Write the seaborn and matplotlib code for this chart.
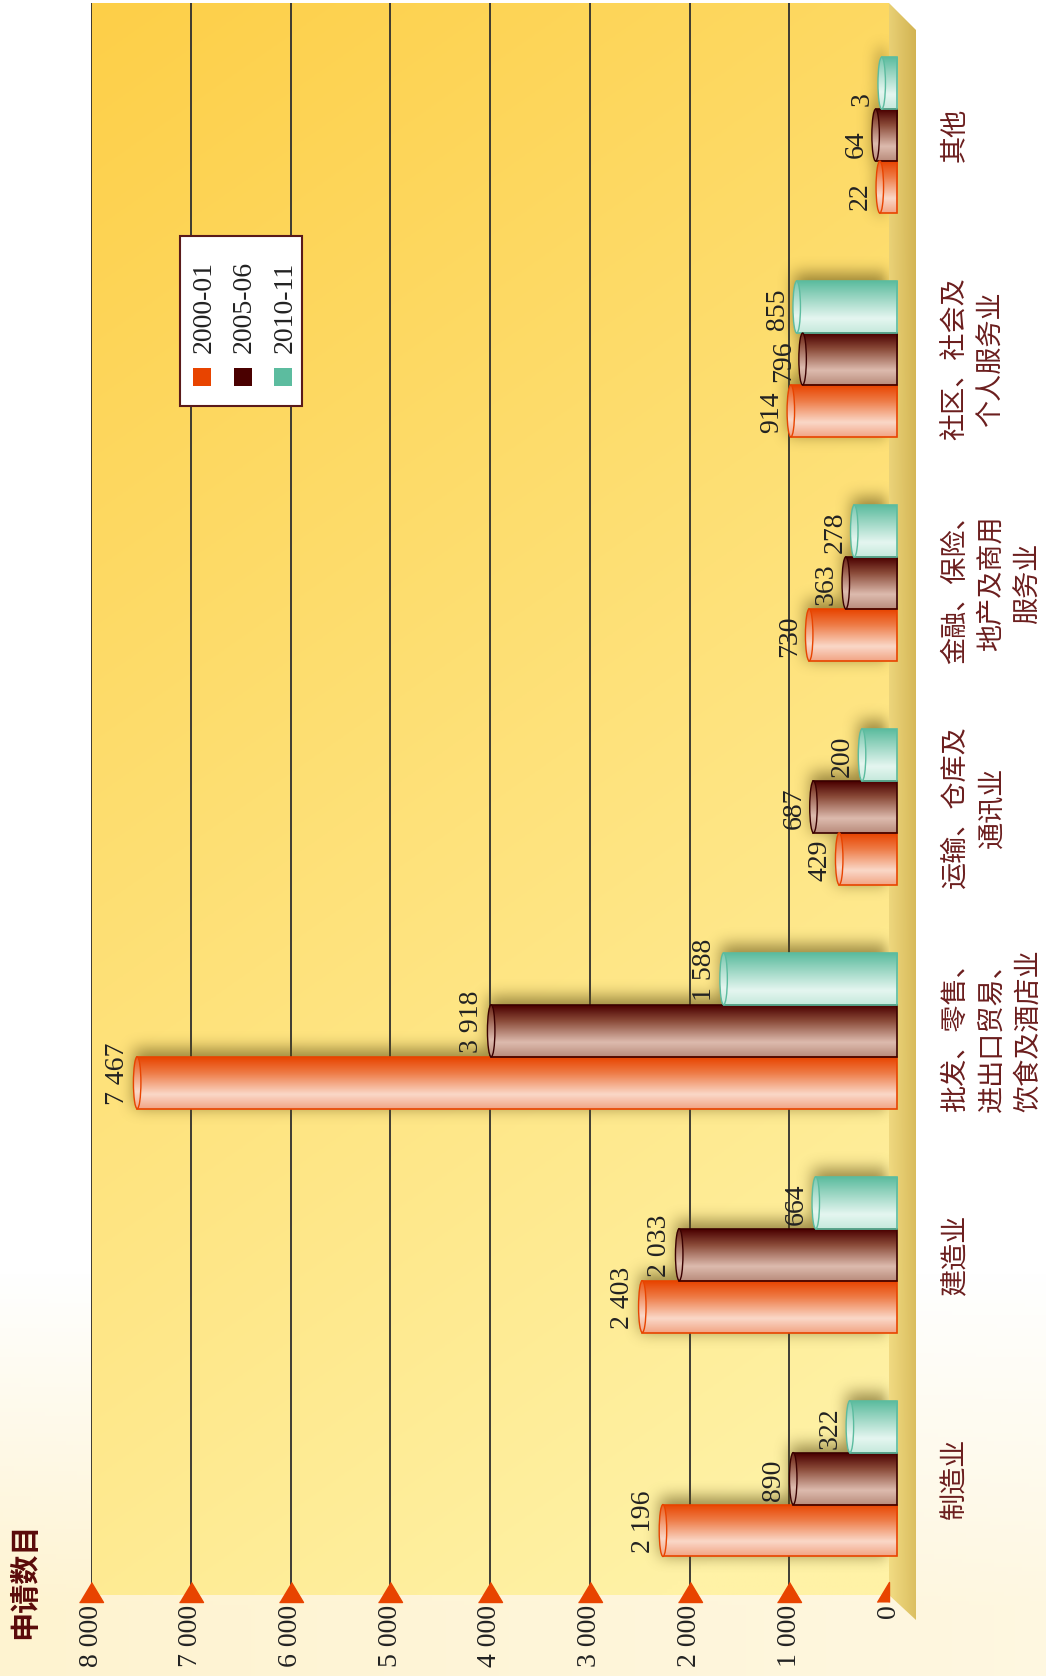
import numpy as np
import pandas as pd
import matplotlib
matplotlib.use("Agg")
import matplotlib.pyplot as plt
import matplotlib.transforms as mtransforms
from matplotlib.patches import Rectangle, Ellipse, Polygon
from matplotlib.colors import LinearSegmentedColormap, to_rgb
import seaborn as sns

# ---------------- data ----------------
categories = ["制造业", "建造业", "批发、零售、进出口贸易、饮食及酒店业", "运输、仓库及通讯业",
              "金融、保险、地产及商用服务业", "社区、社会及个人服务业", "其他"]
category_labels = ["制造业", "建造业", "批发、零售、\n进出口贸易、\n饮食及酒店业", "运输、仓库及\n通讯业",
                   "金融、保险、\n地产及商用\n服务业", "社区、社会及\n个人服务业", "其他"]
periods = ["2000-01", "2005-06", "2010-11"]
values_2000_01 = [2196, 2403, 7467, 429, 730, 914, 22]
values_2005_06 = [890, 2033, 3918, 687, 363, 796, 64]
values_2010_11 = [322, 664, 1588, 200, 278, 855, 3]
tick_values = [0, 1000, 2000, 3000, 4000, 5000, 6000, 7000, 8000]
tick_labels = ["0", "1 000", "2 000", "3 000", "4 000", "5 000", "6 000", "7 000", "8 000"]
axis_title = "申请数目"

series = {"2000-01": values_2000_01, "2005-06": values_2005_06, "2010-11": values_2010_11}
df = pd.DataFrame([(c, p, v) for p in periods for c, v in zip(categories, series[p])],
                  columns=["category", "period", "value"])

# ---------------- style ----------------
sns.set_theme(style="white")
plt.rcParams["font.family"] = ["Liberation Serif", "Noto Sans CJK SC", "DejaVu Sans"]

base_colors = {"2000-01": "#E84400", "2005-06": "#4A0000", "2010-11": "#5CBC9F"}
edge_colors = {"2000-01": "#E84400", "2005-06": "#3A0000", "2010-11": "#5CBC9F"}
grad_stops = {
    "2000-01": [(0, "#E84400"), (0.3, "#EE7A45"), (0.72, "#FAD8C8"), (1.0, "#F2A585")],
    "2005-06": [(0, "#4A0000"), (0.3, "#8A4A38"), (0.72, "#DDBBAE"), (1.0, "#B98C7C")],
    "2010-11": [(0, "#5CBC9F"), (0.3, "#96D4C0"), (0.72, "#E5F6F0"), (1.0, "#C5E9DC")],
}
cmaps = {k: LinearSegmentedColormap.from_list(k, v) for k, v in grad_stops.items()}
label_red = "#6B1E1E"
txt_dark = "#222222"

W, H = 1046, 1676
fig = plt.figure(figsize=(W / 100, H / 100), dpi=100)


def fx(x):
    return x / W


def fy(y):
    return 1 - y / H


# background gradient (figure coords)
bg = fig.add_axes([0, 0, 1, 1], zorder=-10)
bg.set_axis_off()
gy, gx = np.mgrid[0:1:400j, 0:1:300j]
t = np.clip((gy - 0.76) / 0.2, 0, 1) * (0.65 + 0.35 * (1 - gx))
t = t[..., None]
c0 = np.array(to_rgb("#FFFFFF"))
c1 = np.array(to_rgb("#FEF3D0"))
bg.imshow(c0 * (1 - t) + c1 * t, extent=[0, 1, 0, 1], aspect="auto", origin="upper")

# 3D side wall
wall_pts = [(fx(889), fy(3)), (fx(916), fy(30)), (fx(916), fy(1620)), (fx(889), fy(1595))]
wall = Polygon(wall_pts, closed=True, facecolor="none", edgecolor="none")
bg.add_patch(wall)
wy, wx = np.mgrid[0:1:200j, 0:1:60j]
wt = (0.7 * wx + 0.3 * (1 - wy))[..., None]
wc0 = np.array(to_rgb("#F2DC84"))
wc1 = np.array(to_rgb("#D2B352"))
wim = bg.imshow(wc0 * (1 - wt) + wc1 * wt, extent=[fx(889), fx(916), fy(1620), fy(3)],
                aspect="auto", origin="upper")
wim.set_clip_path(wall)
bg.set_xlim(0, 1)
bg.set_ylim(0, 1)

# ---------------- main axes ----------------
ax = fig.add_axes([fx(91), fy(1595), fx(889) - fx(91), fy(3) - fy(1595)])
py, px = np.mgrid[0:1:400j, 0:1:300j]
pt = np.clip(0.8 * py + 0.28 * px, 0, 1)[..., None]
pc0 = np.array(to_rgb("#FDCF48"))
pc1 = np.array(to_rgb("#FFF2A6"))
ax.imshow(pc0 * (1 - pt) + pc1 * pt, extent=[0, 1, 0, 1], transform=ax.transAxes,
          aspect="auto", origin="upper", zorder=0)

sns.barplot(data=df, x="value", y="category", hue="period", order=categories,
            hue_order=periods, palette=base_colors, orient="h", width=0.696, gap=0,
            saturation=1, errorbar=None, legend=False, ax=ax, zorder=3)
bars = [p for p in ax.patches]

ax.set_xlim(8000, 0)
ax.set_ylim(-0.52, 6.59)
ax.set_xlabel("")
ax.set_ylabel("")
for s in ax.spines.values():
    s.set_visible(False)

# gridlines
ax.vlines(tick_values[1:], 0, 1, transform=mtransforms.blended_transform_factory(ax.transData, ax.transAxes),
          colors="#2E2E2E", lw=1.3, zorder=1)

# bars: 3D depth offset, gradients, caps
off = mtransforms.ScaledTranslation(-0.07, 0, fig.dpi_scale_trans)
tr = ax.transData + off
cap_w = 75
depth_ext = 150  # cylinder base extends into the side wall


def period_of(patch):
    fc = np.array(patch.get_facecolor()[:3])
    return min(periods, key=lambda k: np.sum((np.array(to_rgb(base_colors[k])) - fc) ** 2))


bar_info = []
for p in bars:
    per = period_of(p)
    x0, y0, w, h = p.get_x(), p.get_y(), p.get_width(), p.get_height()
    value = x0 + w
    bar_info.append((per, value, y0, h))
    grad = cmaps[per](np.linspace(0, 1, 120))[:, None, :3]
    p.set_x(x0 - depth_ext)
    p.set_width(w + depth_ext)
    p.set_transform(tr)
    p.set_clip_on(False)
    p.set_facecolor("none")
    p.set_edgecolor(edge_colors[per])
    p.set_linewidth(1.2)
    p.set_zorder(3.2)
    im = ax.imshow(grad, extent=[-depth_ext, value, y0, y0 + h], aspect="auto", origin="upper",
                   zorder=3.1, transform=tr, interpolation="bilinear")
    im.set_clip_path(p)
    el = Ellipse((value, y0 + h / 2), width=cap_w, height=h, transform=tr,
                 facecolor="none", edgecolor=edge_colors[per], lw=1.0, zorder=3.4, clip_on=False)
    ax.add_patch(el)
    cgrad = cmaps[per](np.linspace(0.15, 1, 120))[:, None, :3]
    cim = ax.imshow(cgrad, extent=[value - cap_w / 2, value + cap_w / 2, y0, y0 + h], aspect="auto",
                    origin="upper", zorder=3.3, transform=tr, interpolation="bilinear")
    cim.set_clip_path(el)

ax.set_xlim(8000, 0)
ax.set_ylim(-0.52, 6.59)

# soft shadows under bars
bb = ax.bbox
nx, ny = int(round(bb.width)), int(round(bb.height))
mask = np.zeros((ny, nx))
for per, value, y0, h in bar_info:
    pts = tr.transform([[-depth_ext, y0], [value - cap_w / 2, y0 + h]])
    xa, xb = sorted(pts[:, 0] - bb.x0)
    ya, yb = sorted(bb.y1 - pts[:, 1])
    xa -= 6
    ya -= 7
    r0, r1 = int(max(ya, 0)), int(min(yb, ny))
    c0_, c1_ = int(max(xa, 0)), int(min(xb, nx))
    if r1 > r0 and c1_ > c0_:
        mask[r0:r1, c0_:c1_] = 1.0


def box_blur(a, r, axis):
    a = np.moveaxis(a, axis, 0)
    pad = np.pad(a, ((r + 1, r),) + ((0, 0),) * (a.ndim - 1), mode="constant")
    c = np.cumsum(pad, axis=0)
    out = (c[2 * r + 1:] - c[:-2 * r - 1]) / (2 * r + 1)
    return np.moveaxis(out, 0, axis)


sh = mask
for _ in range(3):
    sh = box_blur(sh, 7, 0)
    sh = box_blur(sh, 7, 1)
rgba = np.zeros((ny, nx, 4))
rgba[..., 0:3] = to_rgb("#5A4A10")
rgba[..., 3] = np.clip(sh, 0, 1) * 0.6
ax.imshow(rgba, extent=[0, 1, 0, 1], transform=ax.transAxes, aspect="auto",
          origin="upper", zorder=2, interpolation="bilinear")
ax.set_xlim(8000, 0)
ax.set_ylim(-0.52, 6.59)

# value labels (end of text aligned near the bar's lower edge)
for per, value, y0, h in bar_info:
    ax.annotate(f"{int(round(value)):,}".replace(",", " "), xy=(value, y0), xycoords=tr,
                xytext=(-5, 2.5), textcoords="offset points", rotation=90, ha="right", va="bottom",
                fontsize=20, color=txt_dark, zorder=6, annotation_clip=False)

# tick triangles
btr = mtransforms.blended_transform_factory(ax.transData, ax.transAxes)
tri = [(-1.2, -1), (1.2, -1), (0, 1)]
half_tri = [(0, -1), (0, 1), (-1.2, -1)]
ax.plot(tick_values[1:], [3 / 1592] * (len(tick_values) - 1), ls="none", marker=tri, ms=17.3,
        color="#E84400", mec="#E84400", transform=btr, clip_on=False, zorder=5)
ax.plot(tick_values[:1], [3 / 1592], ls="none", marker=half_tri, ms=17.3,
        color="#E84400", mec="#E84400", transform=btr, clip_on=False, zorder=5)

# x ticks (value axis)
ax.set_xticks(tick_values, labels=tick_labels, rotation=90)
ax.tick_params(axis="x", length=0, pad=7, labelsize=20, labelcolor=txt_dark)

# y ticks (categories) on the right
ax.yaxis.tick_right()
ax.set_yticks(range(len(categories)), labels=category_labels, rotation=90, ha="left", va="center",
              multialignment="center", linespacing=1.45, family=["Noto Sans CJK SC"])
ax.tick_params(axis="y", length=0, pad=38, labelsize=19.5, labelcolor=label_red)

# axis title
fig.text(fx(24), fy(1581), axis_title, rotation=90, ha="center", va="center", fontsize=21,
         fontweight="bold", color="#5A0A0A", family=["Noto Sans CJK SC"], zorder=11)

# legend (rotated, manual)
fig.add_artist(Rectangle((fx(180), fy(406)), fx(302) - fx(180), fy(236) - fy(406),
                         transform=fig.transFigure, facecolor="white", edgecolor="#5A1A1A",
                         lw=1.5, zorder=10))
for i, per in enumerate(periods):
    cx = 202 + 40.5 * i
    fig.add_artist(Rectangle((fx(cx - 9), fy(386)), fx(18), 18 / H, transform=fig.transFigure,
                             facecolor=base_colors[per], edgecolor="none", zorder=11))
    fig.text(fx(cx + 2), fy(307), per, rotation=90, ha="center", va="center", fontsize=20,
             color=txt_dark, zorder=12)

fig.savefig("out.png", dpi=100)
